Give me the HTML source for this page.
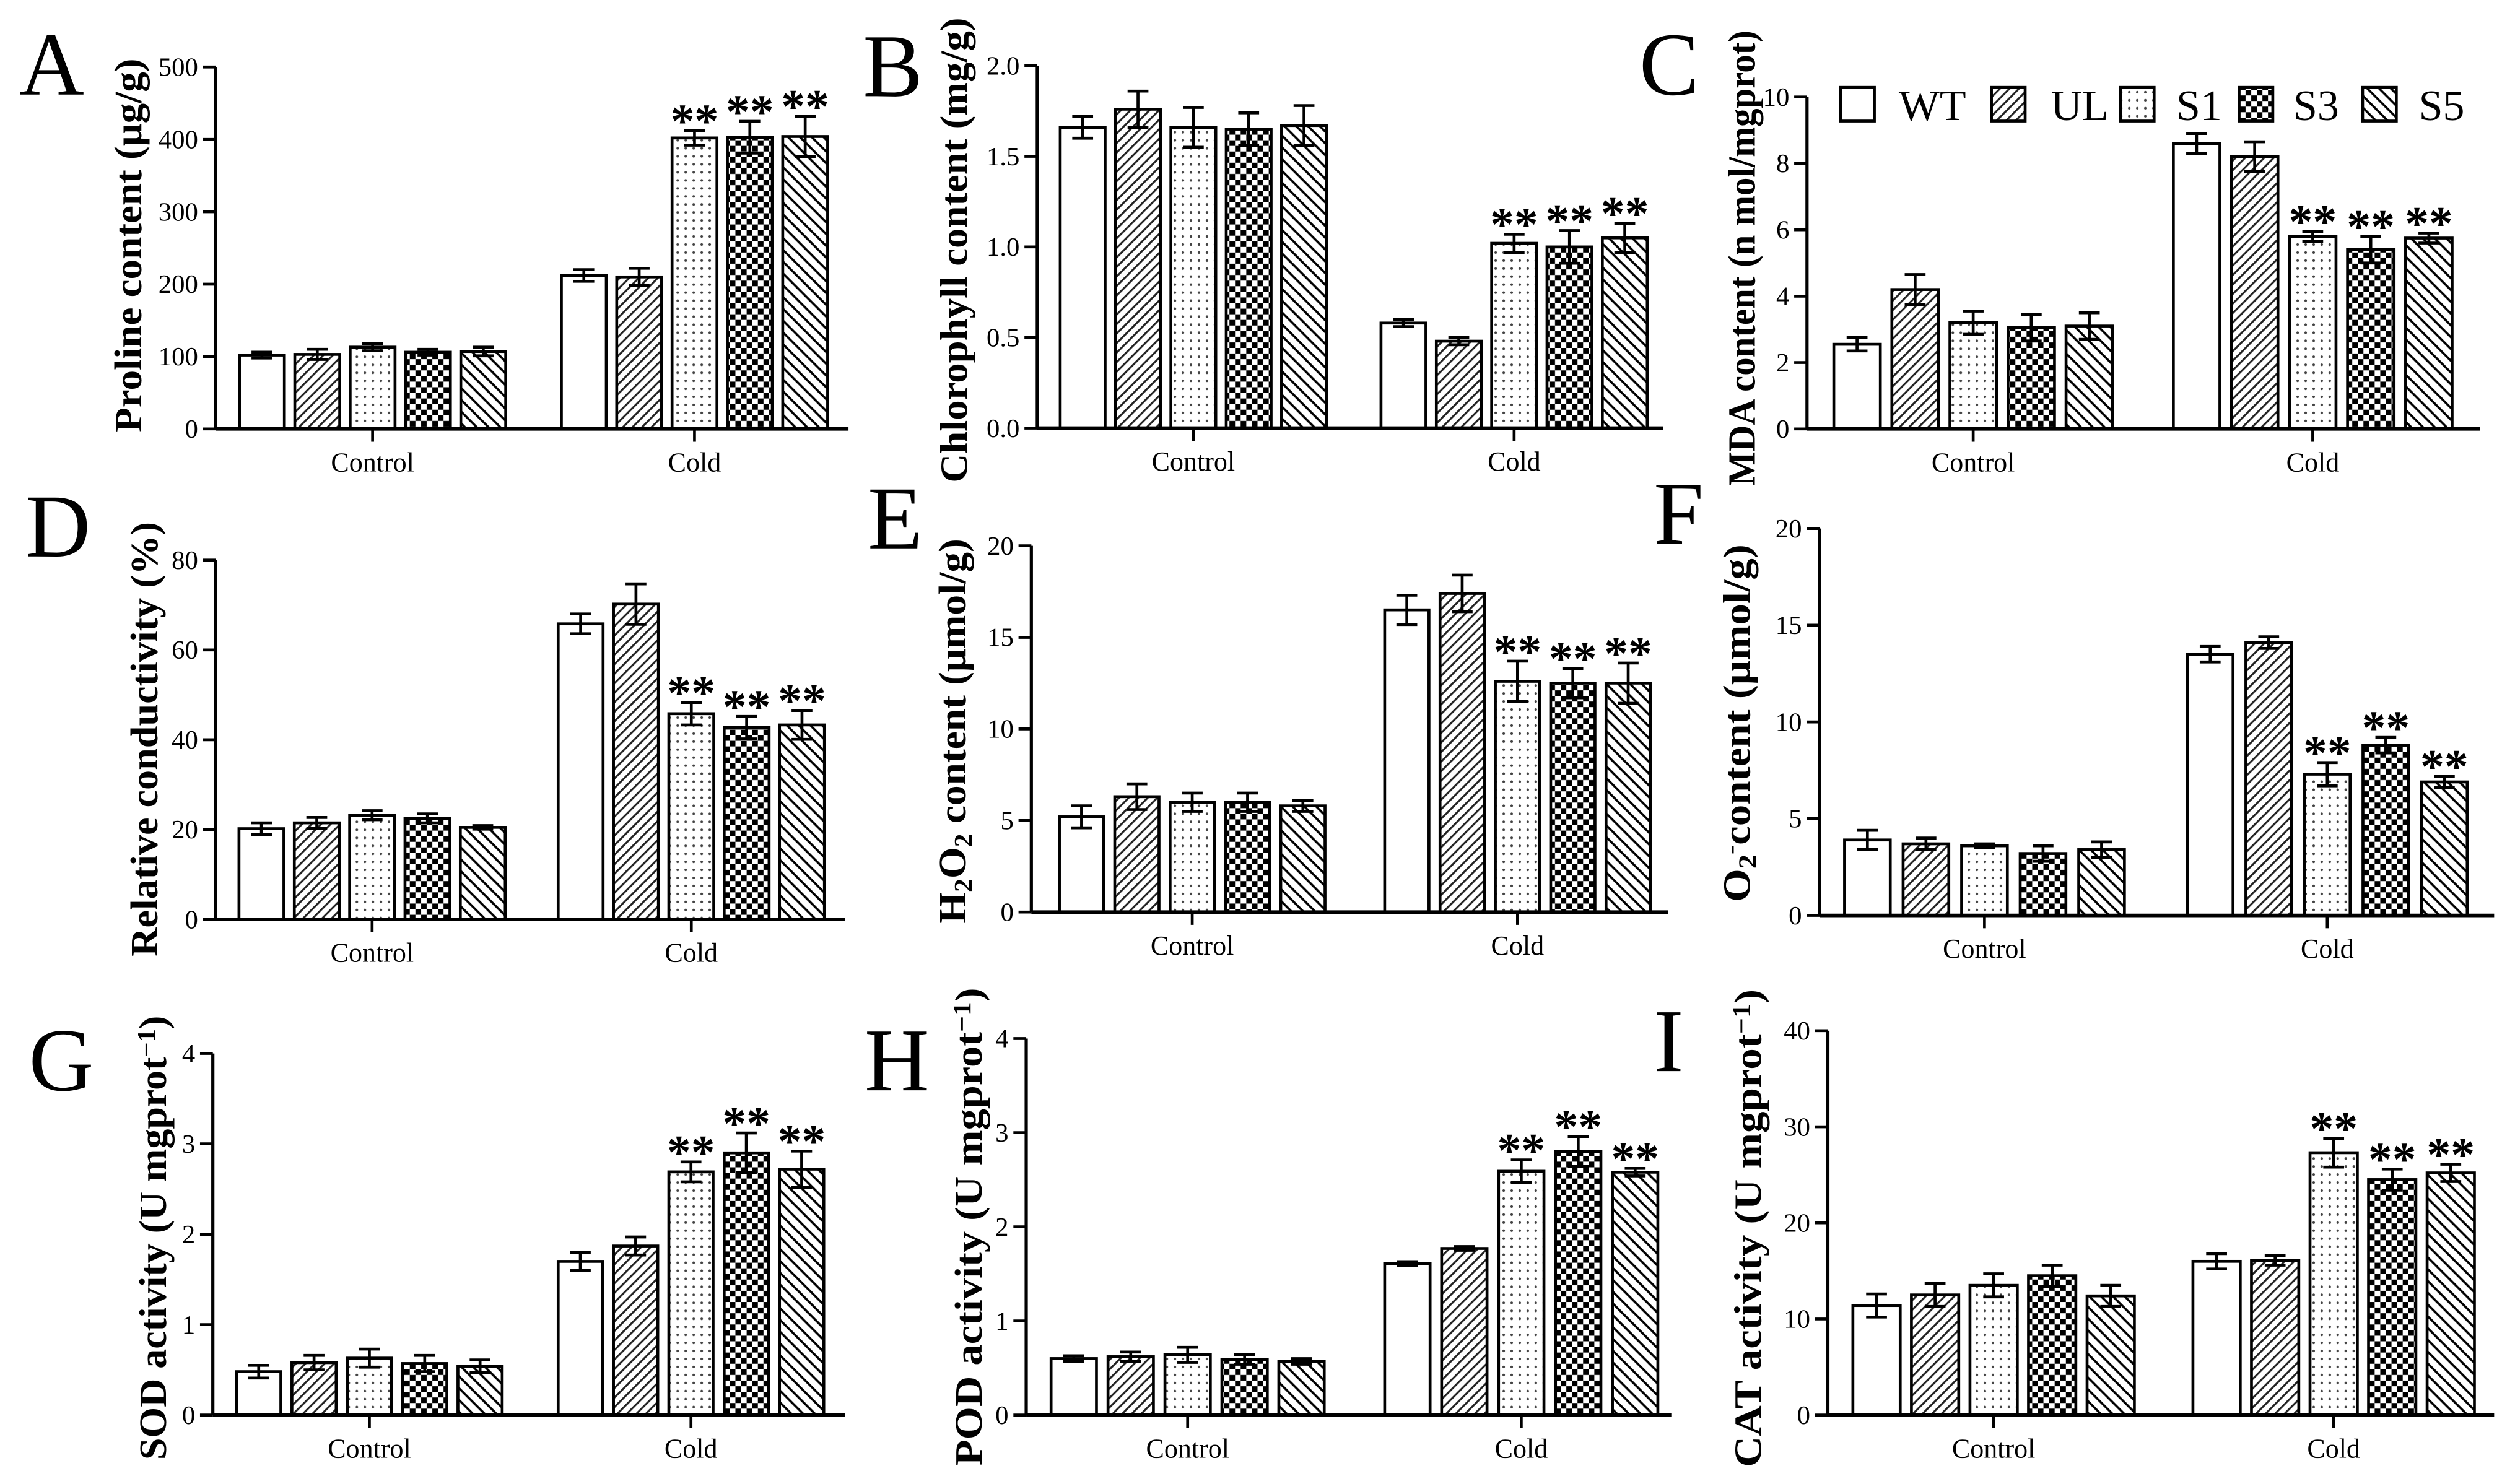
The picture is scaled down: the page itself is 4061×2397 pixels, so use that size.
<!DOCTYPE html>
<html><head><meta charset="utf-8"><style>
html,body{margin:0;padding:0;background:#fff;}
svg{display:block;}
text{font-family:"Liberation Serif","DejaVu Serif",serif;fill:#000;}
</style></head><body>
<svg id="fig" xmlns="http://www.w3.org/2000/svg" width="4061" height="2397" viewBox="0 0 1568 925.5" preserveAspectRatio="none">
<defs>
<pattern id="pUL" width="4.2" height="4.2" patternUnits="userSpaceOnUse" patternTransform="rotate(45)"><rect width="4.2" height="4.2" fill="#fff"/><line x1="1" y1="0" x2="1" y2="4.2" stroke="#222" stroke-width="1.2"/></pattern>
<pattern id="pS1" width="5" height="5" patternUnits="userSpaceOnUse"><rect width="5" height="5" fill="#fff"/><circle cx="2.5" cy="2.5" r="0.8" fill="#444"/></pattern>
<pattern id="pS3" width="7" height="7" patternUnits="userSpaceOnUse"><rect width="7" height="7" fill="#fff"/><rect width="3.5" height="3.5" fill="#000"/><rect x="3.5" y="3.5" width="3.5" height="3.5" fill="#000"/></pattern>
<pattern id="pS5" width="5.2" height="5.2" patternUnits="userSpaceOnUse" patternTransform="rotate(-45)"><rect width="5.2" height="5.2" fill="#fff"/><line x1="1" y1="0" x2="1" y2="5.2" stroke="#000" stroke-width="1.4"/></pattern>
</defs>
</svg>
<script>
// ---- data ----
const categories = ['Control', 'Cold'];
const seriesNames = ['WT', 'UL', 'S1', 'S3', 'S5'];
const significantCold = [0, 0, 1, 1, 1];

const prolineCtrl = [102, 103, 113, 106, 107];
const prolineCtrlErr = [4, 7, 5, 4, 6];
const prolineCold = [212, 210, 402, 403, 404];
const prolineColdErr = [8, 12, 10, 22, 28];
const prolineTicks = [0, 100, 200, 300, 400, 500];

const chlCtrl = [1.66, 1.76, 1.66, 1.65, 1.67];
const chlCtrlErr = [0.06, 0.10, 0.11, 0.09, 0.11];
const chlCold = [0.58, 0.48, 1.02, 1.00, 1.05];
const chlColdErr = [0.02, 0.02, 0.05, 0.09, 0.08];
const chlTicks = ['0.0', '0.5', '1.0', '1.5', '2.0'];

const mdaCtrl = [2.55, 4.2, 3.2, 3.05, 3.1];
const mdaCtrlErr = [0.2, 0.45, 0.35, 0.4, 0.4];
const mdaCold = [8.6, 8.2, 5.8, 5.4, 5.75];
const mdaColdErr = [0.3, 0.45, 0.15, 0.4, 0.15];
const mdaTicks = [0, 2, 4, 6, 8, 10];

const condCtrl = [20.2, 21.5, 23.2, 22.5, 20.5];
const condCtrlErr = [1.3, 1.2, 1.0, 1.0, 0.4];
const condCold = [65.8, 70.2, 45.8, 42.7, 43.3];
const condColdErr = [2.2, 4.5, 2.5, 2.5, 3.2];
const condTicks = [0, 20, 40, 60, 80];

const h2o2Ctrl = [5.2, 6.3, 6.0, 6.0, 5.8];
const h2o2CtrlErr = [0.6, 0.7, 0.5, 0.5, 0.3];
const h2o2Cold = [16.5, 17.4, 12.6, 12.5, 12.5];
const h2o2ColdErr = [0.8, 1.0, 1.1, 0.8, 1.1];
const h2o2Ticks = [0, 5, 10, 15, 20];

const o2Ctrl = [3.9, 3.7, 3.6, 3.2, 3.4];
const o2CtrlErr = [0.5, 0.3, 0.1, 0.4, 0.4];
const o2Cold = [13.5, 14.1, 7.3, 8.8, 6.9];
const o2ColdErr = [0.4, 0.3, 0.6, 0.4, 0.3];
const o2Ticks = [0, 5, 10, 15, 20];

const sodCtrl = [0.48, 0.58, 0.63, 0.57, 0.54];
const sodCtrlErr = [0.07, 0.08, 0.10, 0.09, 0.07];
const sodCold = [1.70, 1.87, 2.69, 2.90, 2.72];
const sodColdErr = [0.10, 0.10, 0.11, 0.22, 0.20];
const sodTicks = [0, 1, 2, 3, 4];

const podCtrl = [0.60, 0.62, 0.64, 0.59, 0.57];
const podCtrlErr = [0.03, 0.05, 0.08, 0.05, 0.03];
const podCold = [1.61, 1.77, 2.59, 2.80, 2.58];
const podColdErr = [0.02, 0.02, 0.12, 0.16, 0.04];
const podTicks = [0, 1, 2, 3, 4];

const catCtrl = [11.4, 12.5, 13.5, 14.5, 12.4];
const catCtrlErr = [1.2, 1.2, 1.2, 1.1, 1.1];
const catCold = [16.0, 16.1, 27.3, 24.5, 25.2];
const catColdErr = [0.8, 0.5, 1.5, 1.1, 0.9];
const catTicks = [0, 10, 20, 30, 40];

// ---- layout (display units) ----
const fills = ['#fff', 'url(#pUL)', 'url(#pS1)', 'url(#pS3)', 'url(#pS5)'];
const NS = 'http://www.w3.org/2000/svg';
const svg = document.getElementById('fig');

function mk(tag, attrs, parent) {
  const e = document.createElementNS(NS, tag);
  for (const k in attrs) e.setAttribute(k, attrs[k]);
  (parent || svg).appendChild(e);
  return e;
}

const panels = [
  {id:'proline', letter:'A', lx:12, ly:59, ax:134.5, yTop:41.8, y0:267.5, bar0:149.3, step:34.5, w:28, cold0:350, axEnd:529,
   ctrl:prolineCtrl, ctrlErr:prolineCtrlErr, cold:prolineCold, coldErr:prolineColdErr, ticks:prolineTicks,
   lab:{x:88, y:153, len:233, parts:[['Proline content (μg/g)','']]}},
  {id:'chlorophyll', letter:'B', lx:538, ly:60, ax:646.7, yTop:41, y0:267, bar0:661, step:34.5, w:28, cold0:861, axEnd:1037,
   ctrl:chlCtrl, ctrlErr:chlCtrlErr, cold:chlCold, coldErr:chlColdErr, ticks:chlTicks,
   lab:{x:603, y:156, len:290, parts:[['Chlorophyll content (mg/g)','']]}},
  {id:'mda', letter:'C', lx:1022, ly:59, ax:1126.6, yTop:60.5, y0:267.5, bar0:1143.3, step:36.2, w:29, cold0:1355, axEnd:1546,
   ctrl:mdaCtrl, ctrlErr:mdaCtrlErr, cold:mdaCold, coldErr:mdaColdErr, ticks:mdaTicks,
   lab:{x:1094, y:161, len:284, parts:[['MDA content (n mol/mgprot)','']]}},
  {id:'conductivity', letter:'D', lx:16, ly:347, ax:134.5, yTop:349.3, y0:573.4, bar0:149, step:34.5, w:28, cold0:348, axEnd:527,
   ctrl:condCtrl, ctrlErr:condCtrlErr, cold:condCold, coldErr:condColdErr, ticks:condTicks,
   lab:{x:98, y:461, len:271, parts:[['Relative conductivity (%)','']]}},
  {id:'h2o2', letter:'E', lx:541, ly:342, ax:643, yTop:340.4, y0:568.8, bar0:660.5, step:34.5, w:27.6, cold0:863.3, axEnd:1040,
   ctrl:h2o2Ctrl, ctrlErr:h2o2CtrlErr, cold:h2o2Cold, coldErr:h2o2ColdErr, ticks:h2o2Ticks,
   lab:{x:602, y:456, len:240, parts:[['H',''],['2','sub'],['O',''],['2','sub'],[' content (μmol/g)','']]}},
  {id:'superoxide', letter:'F', lx:1031, ly:339, ax:1134.4, yTop:329.6, y0:570.9, bar0:1150, step:36.5, w:28.5, cold0:1363.7, axEnd:1555,
   ctrl:o2Ctrl, ctrlErr:o2CtrlErr, cold:o2Cold, coldErr:o2ColdErr, ticks:o2Ticks,
   lab:{x:1091, y:451, len:223, parts:[['O',''],['2','sub'],['-','sup'],['content (μmol/g)','']]}},
  {id:'sod', letter:'G', lx:18, ly:680, ax:132.7, yTop:657, y0:882.5, bar0:147.5, step:34.5, w:27.6, cold0:348, axEnd:527,
   ctrl:sodCtrl, ctrlErr:sodCtrlErr, cold:sodCold, coldErr:sodColdErr, ticks:sodTicks,
   lab:{x:103.5, y:772, len:277, parts:[['SOD activity (U mgprot',''],['−1','sup'],[')','']]}},
  {id:'pod', letter:'H', lx:539, ly:680, ax:639.8, yTop:647.7, y0:882.5, bar0:655.3, step:35.5, w:28.3, cold0:863.3, axEnd:1042,
   ctrl:podCtrl, ctrlErr:podCtrlErr, cold:podCold, coldErr:podColdErr, ticks:podTicks,
   lab:{x:612, y:765, len:298, parts:[['POD activity (U mgprot',''],['−1','sup'],[')','']]}},
  {id:'cat', letter:'I', lx:1031, ly:668, ax:1139.6, yTop:642.8, y0:882.5, bar0:1155.2, step:36.5, w:29.5, cold0:1367.2, axEnd:1555,
   ctrl:catCtrl, ctrlErr:catCtrlErr, cold:catCold, coldErr:catColdErr, ticks:catTicks,
   lab:{x:1098, y:766, len:298, parts:[['CAT activity (U mgprot',''],['−1','sup'],[')','']]}}
];

panels.forEach(p => {
  const g = mk('g', {});
  
  
  const tickVals = p.ticks.map(Number);
  const maxV = tickVals[tickVals.length - 1];
  const yS = v => p.y0 - v / maxV * (p.y0 - p.yTop);
  const xS = (gi, si) => (gi === 0 ? p.bar0 : p.cold0) + si * p.step;

  const letter = mk('text', {x:p.lx, y:p.ly, 'font-size':56}, g);
  letter.textContent = p.letter;
  
  

  const lab = mk('text', {transform:`translate(${p.lab.x},${p.lab.y}) rotate(-90)`, 'text-anchor':'middle', 'font-size':24, 'font-weight':'bold', textLength:p.lab.len, lengthAdjust:'spacingAndGlyphs'}, g);
  
  
  p.lab.parts.forEach(pt => {
    const ts = mk('tspan', {}, lab);
    ts.textContent = pt[0];
    if (pt[1] === 'sub') { ts.setAttribute('font-size', 16); ts.setAttribute('baseline-shift', '-25%'); }
    if (pt[1] === 'sup') { ts.setAttribute('font-size', 16); ts.setAttribute('baseline-shift', '45%'); }
  });

  [ [p.ctrl, p.ctrlErr], [p.cold, p.coldErr] ].forEach((d, gi) => {
    d[0].forEach((v, si) => {
      const x = xS(gi, si);
      const top = yS(v);
      const r = mk('rect', {x:x, y:top, width:p.w, height:p.y0 - top, fill:fills[si], stroke:'#000', 'stroke-width':1.8}, g);
      
      
      const cx = x + p.w / 2;
      const hi = yS(v + d[1][si]), lo = yS(v - d[1][si]);
      const eb = mk('path', {d:`M${cx},${lo}V${hi}M${cx-6.5},${hi}H${cx+6.5}M${cx-6.5},${lo}H${cx+6.5}`, stroke:'#000', 'stroke-width':1.8, fill:'none'}, g);
      
      
      if (gi === 1 && significantCold[si]) {
        const st = mk('text', {x:cx, y:hi + 4, 'text-anchor':'middle', 'font-size':30, 'font-weight':'bold', 'font-family':'"Liberation Sans",sans-serif'}, g);
        st.textContent = '**';
        
        
      }
    });
  });

  const yAxis = mk('path', {d:`M${p.ax},${p.yTop}V${p.y0}`, stroke:'#000', 'stroke-width':2, fill:'none'}, g);
  
  
  const xAxis = mk('path', {d:`M${p.ax},${p.y0}H${p.axEnd}`, stroke:'#000', 'stroke-width':2.2, fill:'none'}, g);
  
  
  p.ticks.forEach((t, i) => {
    const y = yS(tickVals[i]);
    mk('path', {d:`M${p.ax-8},${y}H${p.ax}`, stroke:'#000', 'stroke-width':1.8}, g);
    const tl = mk('text', {x:p.ax - 11, y:y + 5.5, 'text-anchor':'end', 'font-size':16.5}, g);
    tl.textContent = String(t);
    
    
  });
  categories.forEach((c, gi) => {
    const cx = xS(gi, 2) + p.w / 2;
    mk('path', {d:`M${cx},${p.y0}V${p.y0+8}`, stroke:'#000', 'stroke-width':1.8}, g);
    const cl = mk('text', {x:cx, y:p.y0 + 26.5, 'text-anchor':'middle', 'font-size':17}, g);
    cl.textContent = c;
    
    
  });
});

const legendBoxX = [1147.6, 1241.6, 1322, 1396, 1473];
const legendTextX = [1183.8, 1278.6, 1356.8, 1429.8, 1508];
const lg = mk('g', {});


seriesNames.forEach((s, i) => {
  const b = mk('rect', {x:legendBoxX[i], y:54.5, width:21, height:21, fill:fills[i], stroke:'#000', 'stroke-width':1.8}, lg);
  
  
  const t = mk('text', {x:legendTextX[i], y:75, 'font-size':27}, lg);
  t.textContent = s;
  
  
});
</script>
</body></html>
